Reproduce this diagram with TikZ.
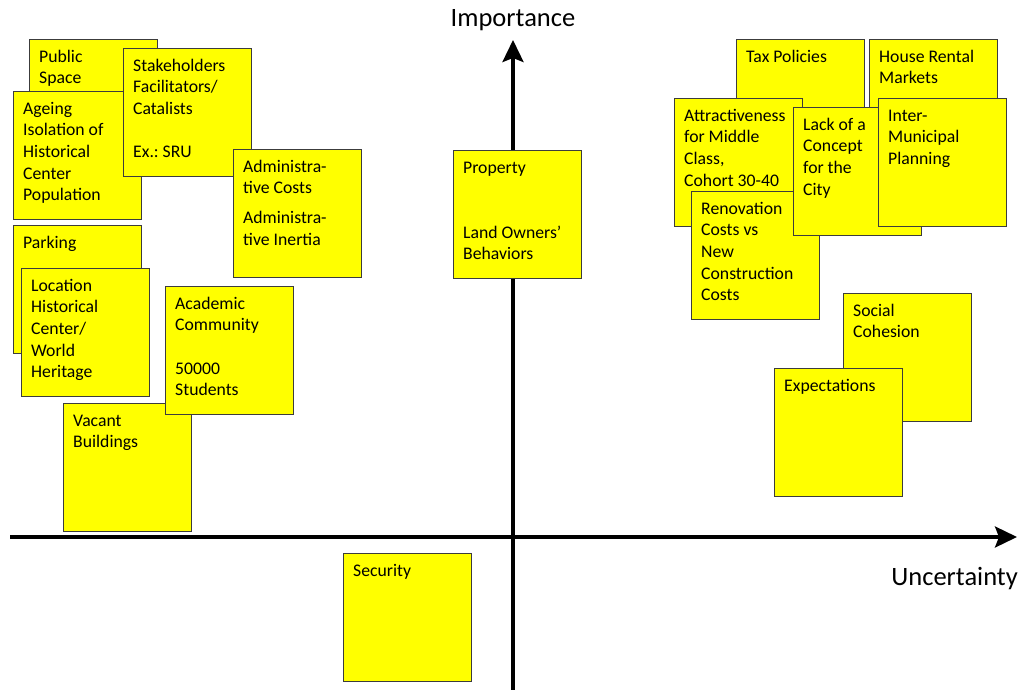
\documentclass[tikz,border=0pt]{standalone}
\usepackage{fontspec}
\setmainfont{Carlito}
\usetikzlibrary{arrows.meta}
\frenchspacing

\definecolor{noteyellow}{RGB}{255,255,0}
\definecolor{noteedge}{RGB}{60,60,60}

\newcommand\notefont{\fontsize{17.7}{21.6}\selectfont}
\newcommand\axisfont{\fontsize{26.5}{31}\selectfont}

% sticky note: name, left, top, text
\newcommand\stickynote[4]{%
  \node[notebox] (#1) at (#2,-#3) {};
  \node[notetext] (#1-t) at ([xshift=10pt,yshift=-7.9pt]#1.north west) {\strut #4};
}

\tikzset{
  notebox/.style={draw=noteedge, fill=noteyellow, line width=0.9pt,
    minimum width=128pt, minimum height=128pt, anchor=north west, inner sep=0pt},
  notetext/.style={anchor=north west, inner sep=0pt, align=left, font=\notefont},
  axisline/.style={line width=3.5pt, -{Stealth[length=22pt,width=21pt,inset=4pt]}},
  axislabel/.style={font=\axisfont, inner sep=0pt}
}

\begin{document}
\begin{tikzpicture}[x=1pt,y=1pt]
\useasboundingbox (0,0) rectangle (1018,-690);

% axes
\coordinate (xs) at (10,-537);
\coordinate (xe) at (1017,-537);
\coordinate (ys) at (513,-690);
\coordinate (ye) at (513,-40);
\draw[axisline] (xs) -- (xe);
\draw[axisline] (ys) -- (ye);
\node[axislabel, anchor=base] (imp) at (513,-27) {Importance};
\node[axislabel, anchor=base east] (unc) at (1018,-585) {Uncertainty};

% upper left quadrant
\stickynote{public}{29}{39}{Public\\Space}
\stickynote{ageing}{13}{91}{Ageing\\Isolation of\\Historical\\Center\\Population}
\stickynote{stake}{123}{48}{Stakeholders\\Facilitators/\\Catalists\\[21.6pt]Ex.: SRU}
\stickynote{admin}{233}{149}{Administra-\\tive Costs\\[8pt]Administra-\\tive Inertia}
\stickynote{parking}{13}{225}{Parking}
\stickynote{location}{21}{268}{Location\\Historical\\Center/\\World\\Heritage}
\stickynote{vacant}{63}{403}{Vacant\\Buildings}
\stickynote{academic}{165}{286}{Academic\\Community\\[21.6pt]50000\\Students}

% on the importance axis
\stickynote{property}{453}{150}{Property\\[43.2pt]Land Owners’\\Behaviors}

% lower left quadrant
\stickynote{security}{343}{553}{Security}

% upper right quadrant
\stickynote{tax}{736}{39}{Tax Policies}
\stickynote{house}{869}{39}{House Rental\\Markets}
\stickynote{attract}{674}{98}{Attractiveness\\for Middle\\Class,\\Cohort 30-40}
\stickynote{renov}{691}{191}{Renovation\\Costs vs\\New\\Construction\\Costs}
\stickynote{lack}{793}{107}{Lack of a\\Concept\\for the\\City}
\stickynote{inter}{878}{98}{Inter-\\Municipal\\Planning}
\stickynote{social}{843}{293}{Social\\Cohesion}
\stickynote{expect}{774}{368}{Expectations}
\end{tikzpicture}
\end{document}
